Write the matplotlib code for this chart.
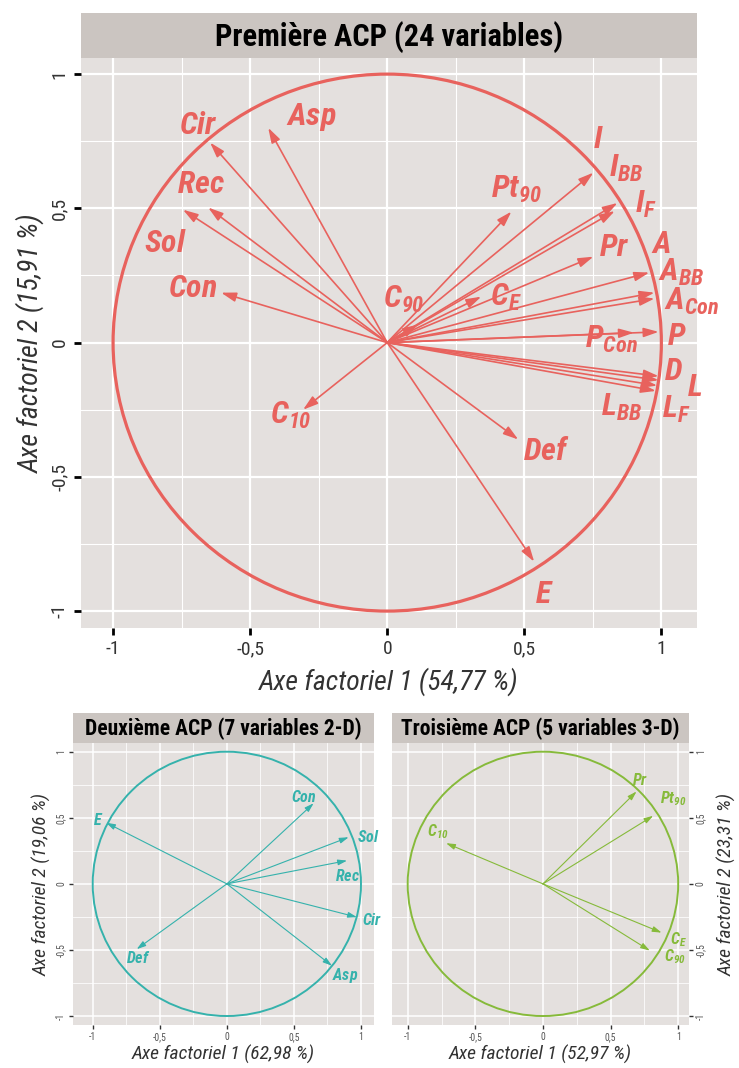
import numpy as np
import matplotlib
matplotlib.use('Agg')
import matplotlib.pyplot as plt
from matplotlib import font_manager
from matplotlib.patches import Circle

# pick a narrow font if there is one
installed = {f.name for f in font_manager.fontManager.ttflist}
narrow = next((f for f in ['Liberation Sans Narrow', 'Roboto Condensed', 'DejaVu Sans Condensed', 'Roboto']
               if f in installed), 'DejaVu Sans')
plt.rcParams['font.family'] = [narrow, 'DejaVu Sans']
plt.rcParams['mathtext.fontset'] = 'custom'
plt.rcParams['mathtext.bfit'] = f'{narrow}:italic:bold'
plt.rcParams['mathtext.rm'] = narrow
plt.rcParams['mathtext.it'] = f'{narrow}:italic'
plt.rcParams['mathtext.bf'] = f'{narrow}:bold'


def lab(main, sub=None):
    if sub is None:
        return r'$\mathbfit{' + main + '}$'
    return r'$\mathbfit{' + main + r'}_{\mathbfit{' + sub + '}}$'


# ---- data : première ACP (24 variables)
acp1_labels = [lab('Cir'), lab('Asp'), lab('Rec'), lab('Sol'), lab('Con'), lab('C', '10'),
               lab('Def'), lab('E'), lab('C', '90'), lab('C', 'E'), lab('Pt', '90'), lab('I'),
               lab('I', 'BB'), lab('I', 'F'), lab('Pr'), lab('A'), lab('A', 'BB'), lab('A', 'Con'),
               lab('P', 'Con'), lab('P'), lab('D'), lab('L'), lab('L', 'BB'), lab('L', 'F')]
acp1_x = [-0.646, -0.434, -0.653, -0.745, -0.606, -0.307, 0.478, 0.536, 0.112, 0.343, 0.453, 0.752,
          0.84, 0.83, 0.752, 0.956, 0.975, 0.975, 0.90, 0.99, 0.99, 0.99, 0.985, 0.98]
acp1_y = [0.745, 0.80, 0.503, 0.495, 0.186, -0.25, -0.361, -0.816, 0.067, 0.171, 0.488, 0.633,
          0.52, 0.49, 0.32, 0.261, 0.186, 0.164, 0.037, 0.04, -0.125, -0.14, -0.16, -0.18]
acp1_lx = [-0.69, -0.277, -0.68, -0.81, -0.71, -0.35, 0.58, 0.573, 0.06, 0.434, 0.47, 0.77,
           0.872, 0.945, 0.828, 1.0, 1.073, 1.11, 0.817, 1.055, 1.044, 1.12, 0.854, 1.055]
acp1_ly = [0.81, 0.84, 0.59, 0.37, 0.20, -0.27, -0.405, -0.94, 0.16, 0.17, 0.57, 0.756,
           0.65, 0.514, 0.354, 0.365, 0.26, 0.153, 0.01, 0.022, -0.108, -0.168, -0.242, -0.25]

# ---- data : deuxième ACP (7 variables 2-D)
acp2_labels = [lab('Con'), lab('Sol'), lab('Rec'), lab('Cir'), lab('Asp'), lab('Def'), lab('E')]
acp2_x = [0.647, 0.908, 0.896, 0.97, 0.784, -0.672, -0.90]
acp2_y = [0.61, 0.353, 0.176, -0.252, -0.62, -0.494, 0.463]
acp2_lx = [0.577, 1.057, 0.896, 1.082, 0.883, -0.659, -0.958]
acp2_ly = [0.655, 0.358, 0.063, -0.272, -0.693, -0.562, 0.484]

# ---- data : troisième ACP (5 variables 3-D)
acp3_labels = [lab('Pr'), lab('Pt', '90'), lab('C', '10'), lab('C', 'E'), lab('C', '90')]
acp3_x = [0.692, 0.815, -0.716, 0.877, 0.79]
acp3_y = [0.699, 0.515, 0.308, -0.369, -0.505]
acp3_lx = [0.716, 0.963, -0.778, 1.0, 0.975]
acp3_ly = [0.786, 0.647, 0.395, -0.423, -0.554]

ticks = [-1, -0.5, 0, 0.5, 1]
tick_labels = ['-1', '-0,5', '0', '0,5', '1']
minor = [-0.75, -0.25, 0.25, 0.75]

RED, TEAL, GREEN = '#E8625D', '#35B2AC', '#86BA3A'
PANEL, STRIP = '#E4E0DE', '#CBC5C1'

W, H = 739, 1068
fig = plt.figure(figsize=(W / 100, H / 100), dpi=100)


def box(x0, y0, x1, y1):
    # pixel box -> figure fraction
    return [x0 / W, 1 - y1 / H, (x1 - x0) / W, (y1 - y0) / H]


def panel(rect, strip_rect, title, tsize, xlim, ylim, grid_w):
    ax = fig.add_axes(rect)
    ax.set_facecolor(PANEL)
    for s in ax.spines.values():
        s.set_visible(False)
    ax.set_xlim(*xlim)
    ax.set_ylim(*ylim)
    ax.set_xticks(ticks)
    ax.set_yticks(ticks)
    ax.set_xticks(minor, minor=True)
    ax.set_yticks(minor, minor=True)
    ax.grid(True, which='major', color='white', lw=grid_w)
    ax.grid(True, which='minor', color='white', lw=grid_w * 0.5)
    ax.tick_params(which='minor', length=0)
    ax.set_axisbelow(True)
    sax = fig.add_axes(strip_rect)
    sax.set_facecolor(STRIP)
    sax.set_xticks([])
    sax.set_yticks([])
    for s in sax.spines.values():
        s.set_visible(False)
    sax.text(0.5, 0.47, title, ha='center', va='center', fontsize=tsize,
             fontweight='bold', color='black')
    return ax


def draw(ax, xs, ys, labels, lxs, lys, color, circ_lw, lw, ms, fsize):
    ax.add_patch(Circle((0, 0), 1, fill=False, color=color, lw=circ_lw, zorder=3))
    for x, y in zip(xs, ys):
        ax.annotate('', xy=(x, y), xytext=(0, 0),
                    arrowprops=dict(arrowstyle='-|>,head_length=0.9,head_width=0.28',
                                    color=color, lw=lw, shrinkA=0, shrinkB=0,
                                    mutation_scale=ms), zorder=4)
    for t, x, y in zip(labels, lxs, lys):
        ax.text(x, y, t, color=color, fontsize=fsize, ha='center', va='center', zorder=5)


# ---- top panel
ax1 = panel(box(81, 58, 697, 628), box(81, 13, 697, 58), 'Première ACP (24 variables)', 22,
            (-1.117, 1.13), (-1.063, 1.06), 1.6)
draw(ax1, acp1_x, acp1_y, acp1_labels, acp1_lx, acp1_ly, RED, 2.3, 1.2, 10, 23)
ax1.set_xticklabels(tick_labels)
ax1.set_yticklabels(tick_labels, rotation=90, va='center')
ax1.tick_params(which='major', length=5, width=2, color='black', labelsize=14,
                labelcolor='#333333', pad=4)
ax1.set_xlabel('Axe factoriel 1 (54,77 %)', fontsize=20, style='italic', color='#333333', labelpad=6)
ax1.set_ylabel('Axe factoriel 2 (15,91 %)', fontsize=20, style='italic', color='#333333', labelpad=4)

# ---- bottom left
ax2 = panel(box(73, 743, 374, 1025), box(73, 713, 374, 743), 'Deuxième ACP (7 variables 2-D)', 15.5,
            (-1.147, 1.097), (-1.068, 1.066), 1.1)
draw(ax2, acp2_x, acp2_y, acp2_labels, acp2_lx, acp2_ly, TEAL, 1.4, 0.8, 6, 11.5)
ax2.set_xticklabels(tick_labels)
ax2.set_yticklabels(tick_labels, rotation=90, va='center')
ax2.tick_params(which='major', length=3, width=1, color='#333333', labelsize=7,
                labelcolor='#555555', pad=2)
ax2.set_xlabel('Axe factoriel 1 (62,98 %)', fontsize=14, style='italic', color='#333333', labelpad=2)
ax2.set_ylabel('Axe factoriel 2 (19,06 %)', fontsize=14, style='italic', color='#333333', labelpad=3)

# ---- bottom right
ax3 = panel(box(392, 743, 689, 1025), box(392, 713, 689, 743), 'Troisième ACP (5 variables 3-D)', 15.5,
            (-1.116, 1.08), (-1.068, 1.066), 1.1)
draw(ax3, acp3_x, acp3_y, acp3_labels, acp3_lx, acp3_ly, GREEN, 1.4, 0.8, 6, 11.5)
ax3.yaxis.tick_right()
ax3.yaxis.set_label_position('right')
ax3.set_xticklabels(tick_labels)
ax3.set_yticklabels(tick_labels, rotation=90, va='center')
ax3.tick_params(which='major', length=3, width=1, color='#333333', labelsize=7,
                labelcolor='#555555', pad=2)
ax3.set_xlabel('Axe factoriel 1 (52,97 %)', fontsize=14, style='italic', color='#333333', labelpad=2)
ax3.set_ylabel('Axe factoriel 2 (23,31 %)', fontsize=14, style='italic', color='#333333',
               labelpad=8, rotation=90)

fig.savefig('out.png', dpi=100)
